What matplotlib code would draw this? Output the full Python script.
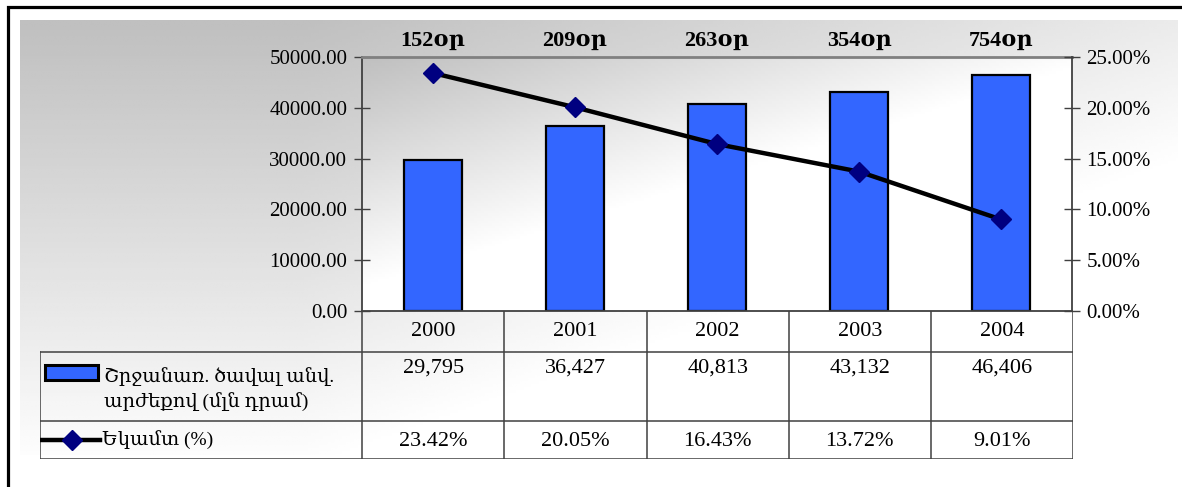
import numpy as np
import matplotlib
matplotlib.use("Agg")
import matplotlib.pyplot as plt
from matplotlib.patches import Rectangle
from matplotlib.lines import Line2D
import matplotlib.transforms as mtransforms

plt.rcParams["font.family"] = ["Liberation Serif", "DejaVu Serif"]

years = ["2000", "2001", "2002", "2003", "2004"]
turnover = [29795, 36427, 40813, 43132, 46406]
income_pct = [23.42, 20.05, 16.43, 13.72, 9.01]
days = ["152օր", "209օր", "263օր", "354օր", "754օր"]
bar_label = "Շրջանառ. ծավալ անվ.\nարժեքով (մլն դրամ)"
line_label = "Եկամտ (%)"

W, H = 1182, 487
fig = plt.figure(figsize=(W / 100, H / 100), dpi=100)


def px_rect(l, t, r, b):
    return [l / W, 1 - b / H, (r - l) / W, (b - t) / H]


# background with gradient and outer frame
bg = fig.add_axes([0, 0, 1, 1], zorder=-5)
bg.set_xlim(0, W)
bg.set_ylim(H, 0)
bg.axis("off")
xs = np.linspace(20, 1178, 300)
ys = np.linspace(20, 455, 150)
gx, gy = np.meshgrid(xs, ys)
s = np.clip((gy - 20) / 430 * 0.95 + np.clip((gx - 300) / 900, 0, 1) * 0.7, 0, 1)
bg.imshow(0.75 + 0.25 * s, cmap="gray", vmin=0, vmax=1, extent=(20, 1178, 455, 20),
          aspect="auto", interpolation="bilinear")
bg.plot([8, 8, W + 5], [H + 5, 7, 7], color="black", lw=2.3, solid_joinstyle="miter")

# main chart
ax = fig.add_axes(px_rect(362, 57, 1072, 311))
x = np.arange(len(years))
u, w = np.meshgrid(np.linspace(0, 1, 200), np.linspace(0, 1, 100))
pv = 0.75 + 0.25 * np.clip(w * 1.1 + u * 0.95, 0, 1)
ax.imshow(pv, cmap="gray", vmin=0, vmax=1, extent=(-0.5, len(years) - 0.5, 0, 50000),
          aspect="auto", interpolation="bilinear", zorder=0)
ax.set_xlim(-0.5, len(years) - 0.5)
ax.set_ylim(0, 50000)
ax.bar(x, turnover, width=0.41, color="#3366FF", edgecolor="black", linewidth=1.6, zorder=2)
ax.set_yticks(np.arange(0, 50001, 10000))
ax.set_yticklabels([f"{v:.2f}" for v in np.arange(0, 50001, 10000)], fontsize=15)
ax.set_xticks([])
ax.tick_params(axis="y", direction="inout", length=11, width=1, color="#404040", pad=5)
for side in ["left", "bottom"]:
    ax.spines[side].set_color("#404040")
    ax.spines[side].set_linewidth(1.3)
ax.spines["top"].set_color("#808080")
ax.spines["top"].set_linewidth(2)
ax.spines["right"].set_visible(False)

trans = mtransforms.blended_transform_factory(ax.transData, ax.transAxes)
for i, d in enumerate(days):
    ax.text(x[i], 1.025, d, transform=trans, ha="center", va="bottom",
            fontsize=16, fontweight="bold")

ax2 = ax.twinx()
ax2.set_ylim(0, 25)
ax2.plot(x, income_pct, color="black", lw=3.2, marker="D", ms=10,
         mfc="#000080", mec="#000080", zorder=3)
ax2.set_yticks(np.arange(0, 26, 5))
ax2.set_yticklabels([f"{v:.2f}%" for v in np.arange(0, 26, 5)], fontsize=15)
ax2.tick_params(axis="y", direction="inout", length=11, width=1, color="#404040", pad=5)
ax2.spines["right"].set_color("#404040")
ax2.spines["right"].set_linewidth(1.3)
for side in ["left", "top", "bottom"]:
    ax2.spines[side].set_visible(False)

# data table below the chart
tb = fig.add_axes(px_rect(40, 311, 1073, 459))
tb.set_xlim(-0.5 - 322 / 142, len(years) - 0.5)
tb.set_ylim(148, 0)
tb.axis("off")
xl = -0.5 - 322 / 142
xr = len(years) - 0.5
lc = "#404040"
for yy in [41, 110, 148]:
    tb.plot([xl, xr], [yy, yy], color=lc, lw=1.1)
tb.plot([xl, xl], [41, 148], color=lc, lw=1.1)
for i in range(len(years) + 1):
    tb.plot([i - 0.5, i - 0.5], [0, 148], color=lc, lw=1.1)
for i, yr in enumerate(years):
    tb.text(x[i], 21, yr, ha="center", va="center", fontsize=16)
    tb.text(x[i], 57, f"{turnover[i]:,}", ha="center", va="center", fontsize=16)
    tb.text(x[i], 130, f"{income_pct[i]:.2f}%", ha="center", va="center", fontsize=16)

# legend keys inside the table
k0 = xl + 5 / 142
k1 = xl + 58 / 142
tb.add_patch(Rectangle((k0, 54), k1 - k0, 15, facecolor="#3366FF", edgecolor="black", lw=2.2))
tb.text(xl + 64 / 142, 78, bar_label, ha="left", va="center", fontsize=14, linespacing=1.45)
tb.add_line(Line2D([xl + 2 / 142, k1 + 2 / 142], [129, 129], color="black", lw=3.2))
tb.plot([xl + 32 / 142], [129], marker="D", ms=10, mfc="#000080", mec="#000080")
tb.text(xl + 62 / 142, 129, line_label, ha="left", va="center", fontsize=14)

fig.savefig("out.png", dpi=100)
